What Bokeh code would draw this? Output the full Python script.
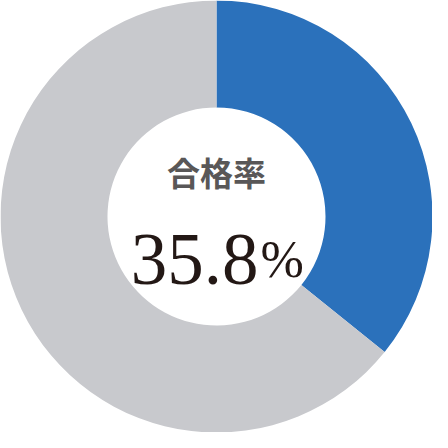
import math
from bokeh.plotting import figure
from bokeh.models import Range1d, ColumnDataSource
from bokeh.core.properties import value
from bokeh.embed import file_html
from bokeh.resources import INLINE

# data
categories = ["合格", "不合格"]
shares = [35.8, 64.2]
colors = ["#2B71BB", "#C8C9CD"]
title_text = "合格率"
rate_text = "35.8"
unit_text = "%"

# angles (clockwise from top)
total = sum(shares)
starts, ends = [], []
acc = 0.0
for s in shares:
    a0 = math.pi / 2 - 2 * math.pi * acc / total
    acc += s
    a1 = math.pi / 2 - 2 * math.pi * acc / total
    starts.append(a1)
    ends.append(a0)

src = ColumnDataSource(dict(cat=categories, share=shares, color=colors, start=starts, end=ends))

W = 432
p = figure(width=W, height=W, output_backend="svg", toolbar_location=None,
           x_range=Range1d(-W / 2, W / 2), y_range=Range1d(-W / 2, W / 2),
           min_border=0)
p.axis.visible = False
p.grid.visible = False
p.outline_line_color = None
p.background_fill_color = "white"
p.border_fill_color = "white"

p.annular_wedge(x=0, y=0, inner_radius=109, outer_radius=216,
                start_angle="start", end_angle="end", fill_color="color",
                line_color=None, source=src)

p.text(x=[0], y=[45], text=[title_text], text_font=value("Noto Sans CJK JP"),
       text_font_size="33px", text_font_style="bold", text_color="#595757",
       text_align="center", text_baseline="middle")
p.text(x=[42], y=[-43], text=[rate_text], text_font=value("Liberation Serif"),
       text_font_size="73px", text_color="#231815", text_align="right",
       text_baseline="alphabetic")
p.text(x=[44], y=[-43], text=[unit_text], text_font=value("Liberation Serif"),
       text_font_size="52px", text_color="#231815", text_align="left",
       text_baseline="alphabetic")

open("out.html", "w").write(file_html(p, INLINE))
